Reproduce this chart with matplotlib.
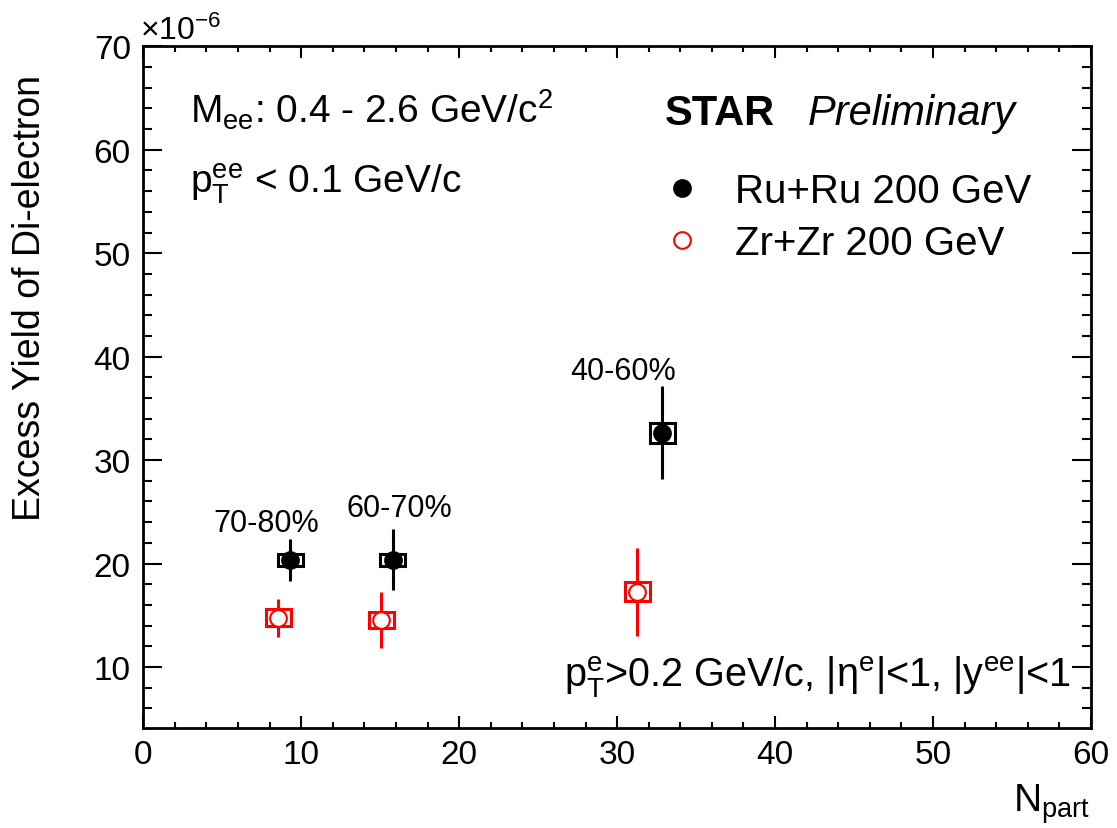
import numpy as np
import matplotlib
matplotlib.use('Agg')
from matplotlib import pyplot as plt
from matplotlib.patches import Rectangle
from matplotlib.ticker import MultipleLocator

plt.rcParams['font.family'] = ['Liberation Sans', 'DejaVu Sans']
plt.rcParams['mathtext.fontset'] = 'custom'
plt.rcParams['mathtext.rm'] = 'Liberation Sans'
plt.rcParams['mathtext.it'] = 'Liberation Sans:italic'
plt.rcParams['mathtext.bf'] = 'Liberation Sans:bold'
plt.rcParams['mathtext.default'] = 'regular'

# centrality classes
centrality = ['70-80%', '60-70%', '40-60%']

# Ru+Ru 200 GeV (yield in units of 1e-6)
ru_npart = [9.31, 15.79, 32.85]
ru_yield = [20.38, 20.38, 32.63]
ru_stat = [2.03, 2.95, 4.5]
ru_sys = [0.58, 0.58, 0.97]

# Zr+Zr 200 GeV
zr_npart = [8.55, 15.08, 31.27]
zr_yield = [14.74, 14.57, 17.28]
zr_stat = [1.8, 2.7, 4.25]
zr_sys = [0.82, 0.77, 0.92]

sys_dx = 0.8
label_pos = [(7.77, 23.15), (16.19, 24.6), (30.37, 37.85)]

fig = plt.figure(figsize=(11.17, 8.29), dpi=100)
ax = fig.add_axes([0.1283, 0.1206, 0.9767 - 0.1283, 0.9429 - 0.1206])

def draw_set(x, y, stat, sys, color, face, label):
    for xi, yi, si in zip(x, y, sys):
        ax.add_patch(Rectangle((xi - sys_dx, yi - si), 2 * sys_dx, 2 * si,
                               fill=False, edgecolor=color, lw=2.2, zorder=2))
    ax.errorbar(x, y, yerr=stat, fmt='none', ecolor=color, elinewidth=2.2,
                capsize=0, zorder=3)
    line, = ax.plot(x, y, 'o', ms=12, mfc=face, mec=color, mew=1.5,
                    ls='none', zorder=4, label=label)
    return line

h_ru = draw_set(ru_npart, ru_yield, ru_stat, ru_sys, 'black', 'black',
                'Ru+Ru 200 GeV')
h_zr = draw_set(zr_npart, zr_yield, zr_stat, zr_sys, 'red', 'white',
                'Zr+Zr 200 GeV')

for lab, (lx, ly) in zip(centrality, label_pos):
    ax.text(lx, ly, lab, fontsize=22, ha='center', va='baseline')

ax.set_xlim(0, 60)
ax.set_ylim(4.1, 70)
ax.xaxis.set_major_locator(MultipleLocator(10))
ax.xaxis.set_minor_locator(MultipleLocator(2))
ax.yaxis.set_major_locator(MultipleLocator(10))
ax.yaxis.set_minor_locator(MultipleLocator(2))
ax.tick_params(which='both', direction='in', top=True, right=True,
               labelsize=24, width=1.5)
ax.tick_params(axis='x', which='major', length=8.6, pad=8)
ax.tick_params(axis='x', which='minor', length=4.3)
ax.tick_params(axis='y', which='major', length=13.5, pad=9)
ax.tick_params(axis='y', which='minor', length=6.7)
for sp in ax.spines.values():
    sp.set_linewidth(2)

ax.text(2.96, 62.6, r'M$_{ee}$: 0.4 - 2.6 GeV/c$^{2}$', fontsize=28,
        va='baseline')
ax.text(2.96, 55.9, r'p$_{T}^{ee}$ < 0.1 GeV/c', fontsize=28, va='baseline')
ax.text(33.0, 62.5, 'STAR', fontsize=30, fontweight='bold', va='baseline')
ax.text(42.07, 62.5, 'Preliminary', fontsize=30, fontstyle='italic',
        va='baseline')
ax.text(58.7, 8.19, r'p$_{T}^{e}$>0.2 GeV/c, |η$^{e}$|<1, |y$^{ee}$|<1',
        fontsize=28.5, ha='right', va='baseline')

ax.legend(handles=[h_ru, h_zr], loc='upper left', bbox_to_anchor=(0.5468, 0.815),
          frameon=False, fontsize=29, numpoints=1, handlelength=1.0,
          handletextpad=0.82, borderpad=0, borderaxespad=0, labelspacing=0.345)

fig.text(0.976, 1 - 812 / 829, r'N$_{part}$', fontsize=28, ha='right',
         va='baseline')
fig.text(0.125, 1 - 40 / 829, r'$\times$10$^{-6}$', fontsize=23,
         va='baseline')
fig.text(0.027, 1 - 75 / 829, 'Excess Yield of Di-electron', fontsize=27,
         rotation=90, ha='center', va='top')

fig.savefig('out.png', dpi=100)
